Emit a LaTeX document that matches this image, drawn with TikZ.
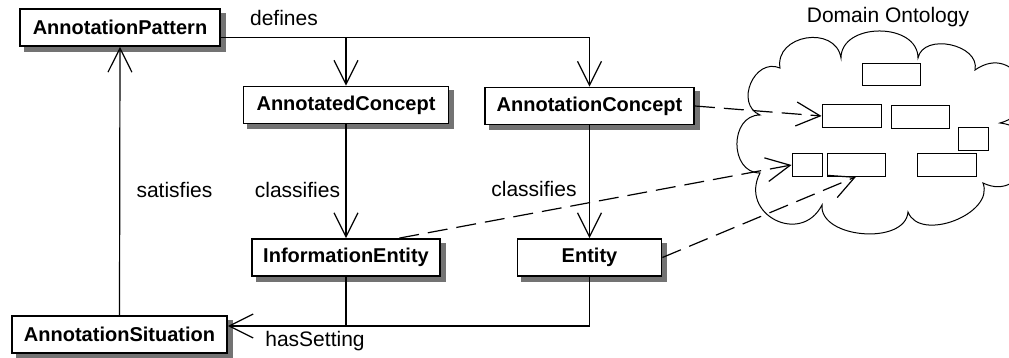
\documentclass[tikz,border=0pt]{standalone}
\usepackage{fontspec}
\setmainfont{Liberation Sans}
\usetikzlibrary{arrows.meta,backgrounds,calc}

\tikzset{
  cls/.style={draw, line width=0.9pt, fill=white, minimum height=18.5pt, inner sep=0pt, font=\bfseries},
  onto/.style={draw, line width=0.5pt, minimum height=11.25pt, inner sep=0pt},
  arr/.style={-{Straight Barb[length=12pt, width=12pt]}, line width=0.6pt},
  dasharr/.style={arr, dash pattern=on 10pt off 4.5pt},
}

\begin{document}
\begin{tikzpicture}[x=0.5pt, y=-0.5pt, font=\fontsize{10.5}{12.6}\selectfont]
    \useasboundingbox (0,0) rectangle (1009,358);

    % classes
    \node[cls, minimum width=100pt] (pat) at (120,27.5) {AnnotationPattern};
    \node[cls, minimum width=102.5pt] (adc) at (346,105) {AnnotatedConcept};
    \node[cls, minimum width=104.5pt] (anc) at (589.5,106) {AnnotationConcept};
    \node[cls, minimum width=94pt] (ie) at (346,257.5) {InformationEntity};
    \node[cls, minimum width=72pt] (ent) at (589.5,257.5) {Entity};
    \node[cls, minimum width=107.5pt] (sit) at (119.5,334.5) {AnnotationSituation};

    \begin{scope}[on background layer]
      \foreach \n in {pat,adc,anc,ie,ent,sit}
        \fill[black!55] ([shift={(2.4pt,-2.4pt)}]\n.south west) rectangle ([shift={(2.4pt,-2.4pt)}]\n.north east);
    \end{scope}

    % domain ontology
    \draw[line width=0.5pt] (760,173) to[bend left=90, looseness=1.36] (760,115)
      to[bend left=90, looseness=1.4] (780,68)
      to[bend left=90, looseness=1.4] (841,58)
      to[bend left=90, looseness=1.2] (918,58)
      to[bend left=90, looseness=1.15] (975,70)
      to[bend left=100, looseness=2.2] (1000,123)
      to[bend left=100, looseness=2.0] (983,183)
      to[bend left=90, looseness=1.05] (908,212)
      to[bend left=90, looseness=1.0] (822,205)
      to[bend left=90, looseness=1.7] (760,173) -- cycle;
    \node[onto, minimum width=29pt] (o1) at (891,74.5) {};
    \node[onto, minimum width=29.5pt] (o2) at (851.5,116) {};
    \node[onto, minimum width=29pt] (o3) at (920,117) {};
    \node[onto, minimum width=15pt] (o4) at (973,139) {};
    \node[onto, minimum width=15pt] (o5) at (807,165) {};
    \node[onto, minimum width=29pt] (o6) at (856,165) {};
    \node[onto, minimum width=29.5pt] (o7) at (946.5,165) {};

    % relations
    \draw[arr] ($(pat.east)+(0,10)$) coordinate (def) -| (anc.north);
    \draw[arr] (def -| adc.north) -- (adc.north);
    \draw[arr] (adc.south) -- (ie.north);
    \draw[arr] (anc.south) -- (ent.north);
    \draw[arr] (ent.south) |- ($(sit.east)+(0,-8.5)$) coordinate (hs);
    \draw[line width=0.6pt] (ie.south) -- (ie.south |- hs);
    \draw[arr] (sit.north) -- (pat.south);

    \draw[dasharr] (anc.east) -- (o2.west);
    \draw[dasharr] (ie.20) -- (o5.west);
    \draw[dasharr] (ent.east) -- (o6.south);

    % labels
    \node (ldef) at (284,18) {defines};
    \node (lcl1) at (297.5,189.5) {classifies};
    \node (lcl2) at (534,189) {classifies};
    \node (lsat) at (174.5,189.5) {satisfies};
    \node (lhas) at (315,341.5) {hasSetting};
    \node (ldom) at (888,17.5) {Domain Ontology};
\end{tikzpicture}
\end{document}
